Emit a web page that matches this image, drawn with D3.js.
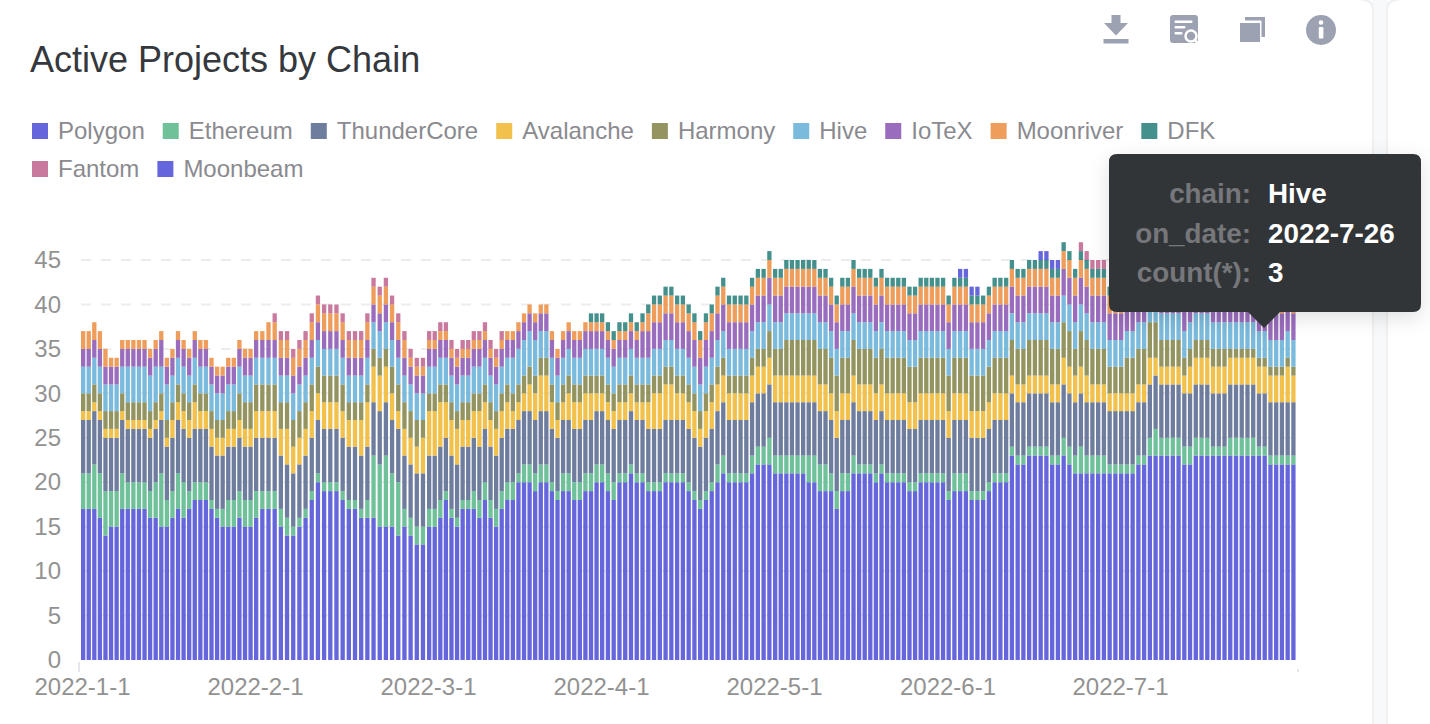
<!DOCTYPE html>
<html>
<head>
<meta charset="utf-8">
<title>Active Projects by Chain</title>
<script src="https://cdn.jsdelivr.net/npm/d3@7"></script>
<style>
  html, body { margin: 0; padding: 0; background: #fff; overflow: hidden; }
  text { font-family: "Liberation Sans", Arial, sans-serif; }
</style>
</head>
<body>
<svg id="chart" width="1430" height="724"></svg>
<script>
// daily counts per chain, 2022-1-1 to 2022-7-31, one row per month
const polygon = [
  17,17,17,16,14,15,15,17,17,17,17,17,16,16,15,15,16,17,16,17,18,18,18,17,16,15,15,15,16,15,15,
  16,17,17,17,15,14,14,15,16,18,20,19,19,19,18,17,17,16,16,16,15,15,15,14,15,14,13,13,
  15,15,16,18,16,15,17,17,17,16,18,16,15,17,18,18,20,20,20,19,20,20,19,18,19,19,18,18,19,19,20,
  20,19,18,20,20,21,20,20,19,19,19,20,20,20,20,19,18,17,18,19,20,21,20,20,20,20,21,22,22,22,
  21,21,21,21,21,21,20,20,19,19,19,17,19,19,21,21,21,21,20,21,20,20,20,20,19,19,20,20,20,20,20,
  18,19,19,19,18,18,18,19,20,20,20,23,22,22,23,23,23,23,22,22,23,22,21,21,21,21,21,21,21,21,
  21,21,21,22,22,23,23,23,23,23,23,22,22,23,23,23,23,23,23,23,23,23,23,23,23,23,22,22,22,22,22
];
const ethereum = [
  4,4,5,5,5,4,4,4,3,3,3,3,3,4,6,3,3,4,4,2,2,2,2,1,1,2,3,3,3,3,3,
  3,2,2,2,2,2,1,1,1,1,1,1,1,1,1,1,1,1,2,7,7,8,6,6,2,2,2,2,
  2,2,2,1,1,1,1,1,2,2,2,2,2,2,2,2,1,2,2,2,2,2,1,1,2,2,2,2,2,2,2,
  2,2,2,1,1,1,1,1,1,1,1,1,1,1,1,1,1,1,1,1,2,2,1,1,1,1,2,2,2,3,
  2,2,2,2,2,2,3,3,3,3,2,2,2,2,2,1,1,1,1,1,1,1,1,1,1,1,1,1,1,1,1,
  1,2,2,2,1,1,1,1,1,1,1,1,1,1,1,1,1,1,1,1,2,2,2,3,2,2,2,2,1,1,
  1,1,1,1,1,2,3,2,2,2,2,2,2,2,2,2,1,1,1,2,2,2,2,2,1,1,1,1,1,1,1
];
const thunderCore = [
  6,6,6,6,6,6,6,6,6,6,6,6,6,6,6,6,6,6,6,6,6,6,6,6,6,6,6,6,6,6,6,
  6,6,6,6,6,6,6,6,6,6,6,6,6,6,6,6,6,6,6,6,6,6,6,6,6,6,6,6,
  6,6,6,6,6,6,6,6,6,6,6,6,6,6,6,6,6,6,6,6,6,6,6,6,6,6,6,6,6,6,6,
  6,6,6,6,6,6,6,6,6,6,6,6,6,6,6,6,6,6,6,6,6,6,6,6,6,6,6,6,6,6,
  6,6,6,6,6,6,6,6,6,6,6,6,6,6,6,6,6,6,6,6,6,6,6,6,6,6,6,6,6,6,6,
  6,6,6,6,6,6,6,6,6,6,6,6,6,6,6,6,6,6,6,6,6,6,6,6,6,6,6,6,6,6,
  6,6,6,6,6,6,6,6,6,6,6,6,6,6,6,6,6,6,6,6,6,6,6,6,6,6,6,6,6,6,6
];
const avalanche = [
  1,1,1,1,1,1,1,1,1,1,1,1,1,1,1,1,2,2,2,2,3,2,2,2,2,2,2,2,2,2,2,
  3,3,3,3,3,4,3,3,3,3,3,3,3,3,3,3,3,4,5,4,4,4,3,2,3,3,3,4,
  5,5,5,4,4,4,3,3,3,4,3,3,3,3,3,2,2,2,3,3,4,4,3,2,2,3,3,3,3,3,2,
  2,2,2,2,2,2,2,2,3,4,4,4,4,3,3,3,3,2,3,3,3,3,3,3,3,3,3,3,3,3,
  3,3,3,3,3,3,3,3,3,3,3,3,3,3,3,3,3,3,3,3,3,3,3,3,3,3,3,3,3,3,3,
  3,3,3,3,3,3,3,3,3,3,3,2,2,2,2,2,2,2,2,2,3,3,3,3,3,2,2,2,2,2,
  2,2,2,2,2,3,2,2,2,2,2,2,3,3,3,3,3,3,3,3,3,3,3,3,3,3,3,3,3,4,3
];
const harmony = [
  2,2,2,2,2,2,2,2,2,2,2,2,2,2,2,2,2,2,2,2,2,2,2,2,2,2,2,2,3,3,3,
  3,3,3,3,3,3,3,3,3,3,3,3,3,3,3,2,2,2,2,2,2,2,3,3,3,3,3,2,
  2,2,2,2,2,2,2,2,2,2,2,2,2,2,2,2,2,2,2,2,2,2,2,2,2,2,2,2,2,2,2,
  2,2,2,2,2,2,2,2,2,2,2,2,2,2,2,2,2,2,2,2,2,2,2,2,2,2,2,2,2,3,
  3,3,4,4,4,4,4,4,4,4,4,4,4,4,4,4,4,4,4,4,4,4,4,4,4,4,4,4,4,4,4,
  4,4,4,4,4,4,4,4,4,4,4,4,4,4,4,4,4,4,4,4,4,4,3,4,4,4,4,4,3,3,
  3,4,4,4,4,4,4,3,3,3,3,2,2,2,2,2,2,2,2,1,1,1,1,1,1,1,1,1,1,1,1
];
const hive = [
  3,3,3,3,3,3,3,3,4,4,4,4,4,4,3,4,3,3,3,3,3,3,3,3,3,3,3,3,3,3,3,
  3,3,3,3,3,3,3,3,3,3,3,3,3,3,3,3,3,3,3,3,3,3,3,3,3,3,3,3,
  3,3,3,3,3,3,3,3,3,3,3,3,3,3,3,4,4,4,4,4,3,3,3,3,3,3,3,3,3,3,3,
  3,3,3,3,3,3,3,3,3,3,3,3,3,3,3,3,3,3,3,3,3,3,3,3,3,3,3,3,3,3,
  3,3,3,3,3,3,3,3,3,3,3,3,3,3,3,3,3,3,3,3,3,3,3,3,3,3,3,3,3,3,3,
  3,3,3,3,3,3,3,3,3,3,3,3,3,3,3,3,3,3,3,3,3,3,3,3,3,3,3,3,3,3,
  3,3,3,3,3,3,3,3,3,3,3,3,3,3,3,3,3,3,3,3,3,3,3,3,3,3,3,3,3,3,3
];
const ioTeX = [
  2,2,2,2,2,2,2,2,2,2,2,2,2,2,3,2,2,2,2,2,2,2,2,2,2,2,2,2,2,2,2,
  2,2,2,2,2,2,2,2,2,2,2,2,2,2,2,2,2,2,2,2,2,2,2,2,2,2,2,2,
  2,2,2,2,2,2,2,2,2,2,2,2,2,2,2,2,2,2,2,2,2,2,2,2,2,2,2,2,2,2,2,
  2,2,2,2,2,2,2,3,3,3,3,3,3,3,3,3,3,3,3,3,3,3,3,3,3,3,3,3,3,3,
  3,3,3,3,3,3,3,3,3,3,3,3,3,3,3,3,3,3,3,3,3,3,3,3,3,3,3,3,3,3,3,
  3,3,3,3,3,3,3,3,3,3,3,3,3,3,3,3,3,3,3,3,3,3,3,3,3,3,3,3,3,3,
  3,3,3,3,3,3,3,3,3,3,3,3,3,3,3,3,3,3,3,3,3,3,3,3,3,3,3,3,3,3,3
];
const moonriver = [
  2,2,2,2,2,1,1,1,1,1,1,1,1,1,1,1,1,1,1,1,1,1,1,1,1,1,1,1,1,1,1,
  1,1,2,2,2,2,2,2,2,2,2,2,2,2,2,2,2,2,2,2,2,2,2,2,2,1,1,1,
  1,1,1,1,1,1,1,1,1,1,1,1,1,1,1,1,1,1,1,1,1,1,1,1,1,1,1,1,1,1,1,
  1,1,1,1,1,1,1,1,2,2,2,2,2,2,2,2,2,2,2,2,2,2,2,2,2,2,2,2,2,2,
  2,2,2,2,2,2,2,2,2,2,2,2,2,2,2,2,2,2,2,2,2,2,2,2,2,2,2,2,2,2,2,
  2,2,2,2,2,2,2,2,2,2,2,2,2,2,2,2,2,2,2,2,2,2,2,2,2,2,2,2,2,2,
  2,2,2,2,2,2,2,2,2,2,2,2,2,2,2,2,2,2,2,2,2,2,2,2,2,2,2,2,2,2,2
];
const dfk = [
  0,0,0,0,0,0,0,0,0,0,0,0,0,0,0,0,0,0,0,0,0,0,0,0,0,0,0,0,0,0,0,
  0,0,0,0,0,0,0,0,0,0,0,0,0,0,0,0,0,0,0,0,0,0,0,0,0,0,0,0,
  0,0,0,0,0,0,0,0,0,0,0,0,0,0,0,0,0,0,0,0,0,0,0,0,0,0,0,0,0,1,1,
  1,1,1,1,1,1,1,1,1,1,1,1,1,1,1,1,1,1,1,1,1,1,1,1,1,1,1,1,1,1,
  1,1,1,1,1,1,1,1,1,1,1,1,1,1,1,1,1,1,1,1,1,1,1,1,1,1,1,1,1,1,1,
  1,1,1,1,1,1,1,1,1,1,1,1,1,1,1,1,1,1,1,1,1,1,1,1,1,1,1,1,1,1,
  1,1,1,1,1,1,1,1,1,1,1,1,1,1,1,1,1,1,1,1,1,1,1,1,1,1,1,1,1,1,1
];
const fantom = [
  0,0,0,0,0,0,0,0,0,0,0,0,0,0,0,0,0,0,0,0,0,0,0,0,0,0,0,0,0,0,0,
  0,0,0,1,1,1,1,1,1,1,1,1,1,1,1,1,1,1,1,1,1,1,1,1,1,1,1,1,
  1,1,1,1,1,1,1,1,1,1,1,1,1,1,0,0,0,0,0,0,0,0,0,0,0,0,0,0,0,0,0,
  0,0,0,0,0,0,0,0,0,0,0,0,0,0,0,0,0,0,0,0,0,0,0,0,0,0,0,0,0,0,
  0,0,0,0,0,0,0,0,0,0,0,0,0,0,0,0,0,0,0,0,0,0,0,0,0,0,0,0,0,0,0,
  0,0,0,0,0,0,0,0,0,0,0,0,0,0,0,0,0,0,0,0,0,0,0,1,1,1,1,1,0,0,
  0,0,0,0,0,0,0,0,0,0,0,0,0,0,0,0,0,0,0,0,0,0,0,0,0,0,0,0,0,0,0
];
const moonbeam = [
  0,0,0,0,0,0,0,0,0,0,0,0,0,0,0,0,0,0,0,0,0,0,0,0,0,0,0,0,0,0,0,
  0,0,0,0,0,0,0,0,0,0,0,0,0,0,0,0,0,0,0,0,0,0,0,0,0,0,0,0,
  0,0,0,0,0,0,0,0,0,0,0,0,0,0,0,0,0,0,0,0,0,0,0,0,0,0,0,0,0,0,0,
  0,0,0,0,0,0,0,0,0,0,0,0,0,0,0,0,0,0,0,0,0,0,0,0,0,0,0,0,0,0,
  0,0,0,0,0,0,0,0,0,0,0,0,0,0,0,0,0,0,0,0,0,0,0,0,0,0,0,0,0,0,0,
  0,0,1,1,1,1,0,0,0,0,0,0,0,0,0,0,1,1,1,1,0,0,0,0,0,0,0,0,0,0,
  0,0,0,0,0,0,0,0,0,0,0,0,0,0,0,0,0,0,0,0,0,0,0,0,0,0,0,0,0,0,0
];

const chains = ["Polygon", "Ethereum", "ThunderCore", "Avalanche", "Harmony", "Hive", "IoTeX", "Moonriver", "DFK", "Fantom", "Moonbeam"];
const chainValues = [polygon, ethereum, thunderCore, avalanche, harmony, hive, ioTeX, moonriver, dfk, fantom, moonbeam];
const chainColors = ["#5454d8", "#5fba8f", "#5e6f94", "#efba39", "#88884f", "#6cb3d8", "#8f5cb6", "#ec9249", "#2f8480", "#c36a94", "#5454d8"];

const yTicks = [0, 5, 10, 15, 20, 25, 30, 35, 40, 45];
const monthLabels = ["2022-1-1", "2022-2-1", "2022-3-1", "2022-4-1", "2022-5-1", "2022-6-1", "2022-7-1"];
const monthStarts = [0, 31, 59, 90, 120, 151, 181, 212];   // day index of each month start

const tooltipRows = [["chain:", "Hive"], ["on_date:", "2022-7-26"], ["count(*):", "3"]];

const days = d3.range(polygon.length);
chainValues.forEach(v => { if (v.length !== days.length) throw new Error("bad series length " + v.length); });

// Rows for the stack
const rows = days.map(i => {
  const row = {day: i};
  chains.forEach((c, j) => { row[c] = chainValues[j][i]; });
  return row;
});
const stacked = d3.stack().keys(chains)(rows);

const svg = d3.select("#chart");

// the months all get the same width on this axis, so Feb bars sit further apart
const x = d3.scaleLinear().domain(monthStarts).range([81, 254, 427, 600, 773, 946.5, 1119, 1297]);
const y = d3.scaleLinear().domain([0, 45]).range([660, 260]);
const barWidth = 4.3;

// Gap between this card and the next one
svg.append("rect").attr("x", 1372).attr("y", 0).attr("width", 16).attr("height", 724).attr("fill", "#f8f9fb");
svg.append("path").attr("d", "M1373,724V10Q1373,0 1362,0H1372V724Z").attr("fill", "#fff");
svg.append("path").attr("d", "M1373,724V10Q1373,0 1362,0").attr("fill", "none").attr("stroke", "#eef0f2").attr("stroke-width", 2);
svg.append("path").attr("d", "M1387,724V10Q1387,0 1398,0").attr("fill", "none").attr("stroke", "#eef0f2").attr("stroke-width", 2);

// Title
svg.append("text")
  .attr("x", 30)
  .attr("y", 72)
  .attr("font-size", 36)
  .attr("fill", "#35383d")
  .text("Active Projects by Chain");

// Legend, wraps onto a second row
const legend = svg.append("g");
let legendX = 32, legendY = 123;
chains.forEach((c, i) => {
  const item = legend.append("g");
  const label = item.append("text")
    .attr("x", 26)
    .attr("y", 8)
    .attr("dy", "0.35em")
    .attr("font-size", 24)
    .attr("fill", "#8a8a8f")
    .text(c);
  const w = label.node().getComputedTextLength();
  if (legendX + 26 + w > 1225) { legendX = 32; legendY += 38; }
  item.attr("transform", `translate(${legendX},${legendY})`);
  item.append("rect").attr("width", 16).attr("height", 16).attr("fill", chainColors[i]).attr("fill-opacity", 0.9);
  legendX += 26 + w + 18;
});

// Grid lines
svg.append("g").selectAll("line")
  .data(yTicks.slice(1))
  .join("line")
    .attr("x1", 81)
    .attr("x2", 1297)
    .attr("y1", d => y(d))
    .attr("y2", d => y(d))
    .attr("stroke", "#ededed")
    .attr("stroke-width", 2)
    .attr("stroke-dasharray", "10,10");

// Y axis
const yAxis = svg.append("g")
  .attr("transform", "translate(61,0)")
  .call(d3.axisLeft(y).tickValues(yTicks).tickSize(0).tickPadding(0));
yAxis.select(".domain").remove();
yAxis.selectAll("text").attr("font-size", 24).attr("fill", "#929292").style("font-family", '"Liberation Sans", Arial, sans-serif');

// X axis labels, one per month
const xAxis = svg.append("g")
  .attr("transform", "translate(0,661)")
  .call(d3.axisBottom(x)
    .tickValues(monthStarts.slice(0, 7))
    .tickFormat((d, i) => monthLabels[i])
    .tickSize(0)
    .tickPadding(17));
xAxis.select(".domain").remove();
xAxis.selectAll("text").attr("dx", 1).attr("font-size", 24).attr("fill", "#929292").style("font-family", '"Liberation Sans", Arial, sans-serif');

// Tick marks at the two ends of the axis
svg.append("line").attr("x1", 79).attr("x2", 79).attr("y1", 662).attr("y2", 672).attr("stroke", "#e6e6ee").attr("stroke-width", 2);
svg.append("line").attr("x1", 1298).attr("x2", 1298).attr("y1", 669).attr("y2", 672).attr("stroke", "#e6e6ee").attr("stroke-width", 2);

// One group of bars per chain
svg.append("g").selectAll("g")
  .data(stacked)
  .join("g")
    .attr("fill", (d, i) => chainColors[i])
    .attr("fill-opacity", 0.9)
  .selectAll("rect")
  .data(d => d.filter(e => e[1] > e[0]))
  .join("rect")
    .attr("x", d => x(d.data.day))
    .attr("y", d => y(d[1]))
    .attr("width", barWidth)
    .attr("height", d => y(d[0]) - y(d[1]));

// Toolbar icons
const iconColor = "#9ca2b2";
const icons = svg.append("g").attr("fill", iconColor);
icons.append("path").attr("d", "M1111.5,15H1120.5V23H1128L1116,35.5L1104,23H1111.5Z");
icons.append("rect").attr("x", 1103.5).attr("y", 39).attr("width", 25).attr("height", 4.5);
icons.append("rect").attr("x", 1170).attr("y", 15).attr("width", 28).attr("height", 28).attr("rx", 3);
icons.append("rect").attr("x", 1174.5).attr("y", 20.5).attr("width", 18).attr("height", 2.5).attr("fill", "#fff").attr("rx", 1);
icons.append("rect").attr("x", 1174.5).attr("y", 26).attr("width", 11).attr("height", 2.5).attr("fill", "#fff").attr("rx", 1);
icons.append("rect").attr("x", 1174.5).attr("y", 32).attr("width", 8).attr("height", 2.5).attr("fill", "#fff").attr("rx", 1);
icons.append("circle").attr("cx", 1191).attr("cy", 36).attr("r", 5.5).attr("fill", iconColor).attr("stroke", "#fff").attr("stroke-width", 2.5);
icons.append("path").attr("d", "M1195,40.5L1199,44").attr("stroke", "#fff").attr("stroke-width", 2.5);
icons.append("rect").attr("x", 1240).attr("y", 23).attr("width", 20).attr("height", 19);
icons.append("path").attr("d", "M1245,17H1265V37H1261.5V20.5H1245Z");
icons.append("circle").attr("cx", 1321).attr("cy", 30).attr("r", 15);
icons.append("circle").attr("cx", 1321).attr("cy", 22.5).attr("r", 2.3).attr("fill", "#fff");
icons.append("rect").attr("x", 1318.8).attr("y", 27).attr("width", 4.6).attr("height", 11.5).attr("rx", 1).attr("fill", "#fff");

// Tooltip, pinned on the Hive segment of 2022-7-26
const defs = svg.append("defs");
const shadow = defs.append("filter").attr("id", "tipShadow").attr("x", "-20%").attr("y", "-30%").attr("width", "140%").attr("height", "160%");
shadow.append("feDropShadow").attr("dx", 0).attr("dy", 6).attr("stdDeviation", 10).attr("flood-color", "#000").attr("flood-opacity", 0.12);

const tip = svg.append("g");
tip.append("path")
  .attr("d", "M1117,154H1413Q1421,154 1421,162V304Q1421,312 1413,312H1280L1264,328L1248,312H1117Q1109,312 1109,304V162Q1109,154 1117,154Z")
  .attr("fill", "#303439")
  .attr("filter", "url(#tipShadow)");
tooltipRows.forEach((r, i) => {
  tip.append("text")
    .attr("x", 1251)
    .attr("y", 203 + i * 39.5)
    .attr("text-anchor", "end")
    .attr("font-size", 27.8)
    .attr("font-weight", "bold")
    .attr("fill", "#76777b")
    .text(r[0]);
  tip.append("text")
    .attr("x", 1268)
    .attr("y", 203 + i * 39.5)
    .attr("font-size", 27.8)
    .attr("font-weight", "bold")
    .attr("fill", "#fff")
    .text(r[1]);
});
</script>
</body>
</html>
